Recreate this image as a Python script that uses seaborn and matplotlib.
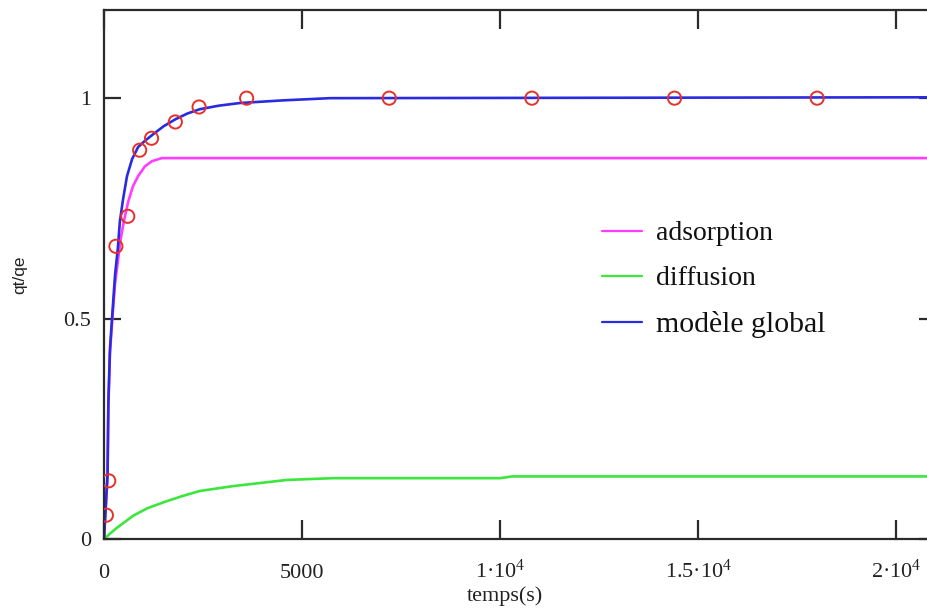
import matplotlib
matplotlib.use("Agg")
import matplotlib.pyplot as plt
import seaborn as sns
import pandas as pd
from matplotlib.lines import Line2D

# ---- data ----
ads_t = [0, 30, 90, 110, 150, 210, 280, 350, 420, 500, 610, 730, 860, 1030, 1210, 1460, 21000]
ads_q = [0, 0.05, 0.14, 0.30, 0.42, 0.50, 0.58, 0.63, 0.68, 0.72, 0.765, 0.800, 0.823, 0.845, 0.857, 0.864, 0.864]

dif_t = [0, 150, 320, 740, 1100, 1590, 2000, 2420, 3260, 4620, 5780, 10000, 10300, 21000]
dif_q = [0, 0.012, 0.025, 0.053, 0.070, 0.086, 0.098, 0.109, 0.120, 0.134, 0.138, 0.138, 0.142, 0.142]

glob_t = [0, 30, 90, 110, 150, 210, 280, 350, 400, 480, 580, 710, 860, 1030, 1210, 1500, 1800, 2100, 2420, 2900, 3430, 4520, 5700, 21000]
glob_q = [0, 0.05, 0.15, 0.31, 0.43, 0.51, 0.60, 0.66, 0.72, 0.77, 0.823, 0.862, 0.889, 0.903, 0.916, 0.936, 0.952, 0.965, 0.975, 0.983, 0.989, 0.995, 1.0, 1.002]

obs_t = [60, 120, 300, 600, 900, 1200, 1800, 2400, 3600, 7200, 10800, 14400, 18000]
obs_q = [0.054, 0.132, 0.664, 0.732, 0.882, 0.909, 0.946, 0.980, 1.0, 1.0, 1.0, 1.0, 1.0]

x_ticks = [0, 5000, 10000, 15000, 20000]
x_tick_labels = ["0", "5000", r"1·10$^{4}$", r"1.5·10$^{4}$", r"2·10$^{4}$"]
y_ticks = [0, 0.5, 1]
y_tick_labels = ["0", "0.5", "1"]
series_names = ["adsorption", "diffusion", "modèle global"]

C_ADS = "#ff3cff"
C_DIF = "#3ce63c"
C_GLOB = "#2a2ae0"
C_OBS = "#e8302a"
C_AX = "#2b2b2b"

sns.set_style("white")
plt.rcParams["font.family"] = ["Liberation Serif", "DejaVu Serif"]
plt.rcParams["mathtext.fontset"] = "custom"
plt.rcParams["mathtext.rm"] = "Liberation Serif"
plt.rcParams["mathtext.it"] = "Liberation Serif:italic"
plt.rcParams["mathtext.default"] = "regular"

fig = plt.figure(figsize=(9.28, 6.10), dpi=100)
W, H = 928, 610
left, right, top, bottom = 104, 936, 10, 539
ax = fig.add_axes([left / W, (H - bottom) / H, (right - left) / W, (bottom - top) / H])
aw, ah = right - left, bottom - top

df_a = pd.DataFrame({"t": ads_t, "q": ads_q})
df_d = pd.DataFrame({"t": dif_t, "q": dif_q})
df_g = pd.DataFrame({"t": glob_t, "q": glob_q})
df_o = pd.DataFrame({"t": obs_t, "q": obs_q})

lw = 1.9
sns.lineplot(data=df_a, x="t", y="q", ax=ax, color=C_ADS, lw=lw, sort=False, estimator=None, legend=False)
sns.lineplot(data=df_d, x="t", y="q", ax=ax, color=C_DIF, lw=lw, sort=False, estimator=None, legend=False)
sns.lineplot(data=df_g, x="t", y="q", ax=ax, color=C_GLOB, lw=lw, sort=False, estimator=None, legend=False)
sns.scatterplot(data=df_o, x="t", y="q", ax=ax, marker="o", s=90, facecolor="none",
                edgecolor=C_OBS, linewidth=1.4, zorder=5, legend=False)

ax.set_xlim(0, 21000)
ax.set_ylim(0, 1.2)
ax.set_xticks(x_ticks)
ax.set_xticklabels(x_tick_labels)
ax.set_yticks(y_ticks)
ax.set_yticklabels(y_tick_labels)

for s in ax.spines.values():
    s.set_color(C_AX)
    s.set_linewidth(1.6)

ax.tick_params(axis="x", direction="in", length=14, width=1.6, color=C_AX, top=True, bottom=True,
               labelsize=16, pad=28, labelcolor="#222222")
ax.tick_params(axis="y", direction="in", length=12, width=1.6, color=C_AX, left=True, right=True,
               labelsize=16, pad=9, labelcolor="#222222")
for lbl in ax.get_xticklabels():
    lbl.set_verticalalignment("baseline")

ax.set_xlabel("temps(s)", fontsize=16, color="#222222", va="center")
ax.xaxis.set_label_coords((505 - left) / aw, (bottom - 596) / ah)
ax.set_ylabel("qt/qe", fontsize=12.5, family=["Liberation Sans", "DejaVu Sans"], color="#222222", va="center")
ax.yaxis.set_label_coords((20 - left) / aw, (bottom - 275) / ah)

# legend
handles = [Line2D([], [], color=C_ADS, lw=1.6),
           Line2D([], [], color=C_DIF, lw=1.6),
           Line2D([], [], color=C_GLOB, lw=1.6)]
leg = ax.legend(handles, series_names, loc="upper left", bbox_to_anchor=(588 / W, 1 - 207 / H),
                bbox_transform=fig.transFigure, frameon=False, fontsize=20, borderpad=0,
                handlelength=1.45, handletextpad=0.5, labelspacing=0.70, labelcolor="#111111")
leg.get_texts()[2].set_fontsize(21.5)

fig.savefig("out.png", dpi=100)
